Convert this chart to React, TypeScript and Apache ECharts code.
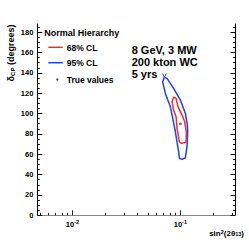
import React, { useEffect, useRef } from "react";
import * as echarts from "echarts";

const xMin = 0.00473;
const xMax = 0.324;
const yMin = 0;
const yMax = 188;
const xMajor = [0.01, 0.1];
const xMinor = [0.005, 0.006, 0.007, 0.008, 0.009, 0.02, 0.03, 0.04, 0.05, 0.06, 0.07, 0.08, 0.09, 0.2, 0.3];
const yMajor = [0, 20, 40, 60, 80, 100, 120, 140, 160, 180];
const yMinor = [5, 10, 15, 25, 30, 35, 45, 50, 55, 65, 70, 75, 85, 90, 95, 105, 110, 115, 125, 130, 135, 145, 150, 155, 165, 170, 175, 185];

const cl95: number[][] = [
  [0.0710, 135.5], [0.0752, 134.5], [0.0866, 124.7], [0.1, 113.2], [0.1113, 100.1],
  [0.1161, 88.7], [0.1169, 82.1], [0.1154, 69.0], [0.1113, 56.6], [0.1037, 55.0],
  [0.0979, 56.0], [0.0964, 62.4], [0.0899, 82.1], [0.0838, 98.5], [0.0808, 106.6],
  [0.0726, 119.8], [0.0685, 131.2], [0.0710, 135.5],
];
const cl95Tip: number[][] = [[0.0685, 139.4], [0.0710, 135.5], [0.0741, 139.4]];
const cl68: number[][] = [
  [0.0866, 116.4], [0.0912, 114.9], [0.0952, 106.6], [0.1037, 98.5], [0.1096, 91.9],
  [0.1137, 82.1], [0.1129, 71.7], [0.1022, 70.7], [0.0979, 72.3], [0.0932, 85.4],
  [0.0912, 96.8], [0.0866, 103.4], [0.0838, 111.5], [0.0866, 116.4],
];
const trueValue: number[][] = [[0.1, 90]];

const legendItems = ["68% CL", "95% CL", "True values"];
const legendTitle = "Normal Hierarchy";
const infoLines = ["8 GeV, 3 MW", "200 kton WC", "5 yrs"];

const RED = "#ff2a1a";
const BLUE = "#2040ff";
const FONT = "Liberation Sans";

export default function App() {
  const ref = useRef<HTMLDivElement>(null);
  useEffect(() => {
    if (!ref.current) return;
    const chart = echarts.init(ref.current, null, { renderer: "svg" });
    const grid = { left: 37.3, top: 24, right: 13.5, bottom: 26.7 };
    const baseX = { type: "log", logBase: 10, min: xMin, max: xMax, splitLine: { show: false } };
    const baseY = { type: "value", min: yMin, max: yMax, splitLine: { show: false } };
    chart.setOption({
      animation: false,
      grid,
      xAxis: [
        {
          ...baseX,
          position: "bottom",
          axisLine: { show: true, lineStyle: { color: "#555", width: 1 } },
          axisTick: { show: true, inside: true, length: 5, customValues: xMajor, lineStyle: { color: "#222" } },
          axisLabel: {
            customValues: xMajor,
            margin: 4,
            formatter: (v: number) => "10{s|" + Math.round(Math.log10(v)) + "}",
            fontFamily: FONT,
            fontWeight: "bold",
            fontSize: 7.5,
            color: "#000",
            rich: { s: { fontSize: 5.5, fontFamily: FONT, fontWeight: "bold", verticalAlign: "top", padding: [0, 0, 4, 0] } },
          },
        },
        {
          ...baseX,
          position: "bottom",
          axisLine: { show: false },
          axisTick: { show: true, inside: true, length: 2.5, customValues: xMinor, lineStyle: { color: "#222" } },
          axisLabel: { show: false },
        },
        {
          ...baseX,
          position: "top",
          axisLine: { show: true, lineStyle: { color: "#888", width: 1 } },
          axisTick: { show: false },
          axisLabel: { show: false },
        },
      ],
      yAxis: [
        {
          ...baseY,
          position: "left",
          axisLine: { show: true, lineStyle: { color: "#000", width: 1 } },
          axisTick: { show: true, inside: true, length: 5, customValues: yMajor, lineStyle: { color: "#000" } },
          axisLabel: {
            customValues: yMajor,
            margin: 4,
            fontFamily: FONT,
            fontWeight: "bold",
            fontSize: 7.5,
            color: "#000",
          },
        },
        {
          ...baseY,
          position: "left",
          axisLine: { show: false },
          axisTick: { show: true, inside: true, length: 2.5, customValues: yMinor, lineStyle: { color: "#000" } },
          axisLabel: { show: false },
        },
        {
          ...baseY,
          position: "right",
          axisLine: { show: true, lineStyle: { color: "#000", width: 1 } },
          axisTick: { show: true, inside: true, length: 5, customValues: yMajor, lineStyle: { color: "#000" } },
          axisLabel: { show: false },
        },
        {
          ...baseY,
          position: "right",
          axisLine: { show: false },
          axisTick: { show: true, inside: true, length: 2.5, customValues: yMinor, lineStyle: { color: "#000" } },
          axisLabel: { show: false },
        },
      ],
      series: [
        {
          name: "95% CL",
          type: "line",
          data: cl95,
          showSymbol: false,
          lineStyle: { color: BLUE, width: 1.5 },
          xAxisIndex: 0,
          yAxisIndex: 0,
        },
        {
          name: "95% CL tip",
          type: "line",
          data: cl95Tip,
          showSymbol: false,
          lineStyle: { color: BLUE, width: 1 },
          xAxisIndex: 0,
          yAxisIndex: 0,
        },
        {
          name: "68% CL",
          type: "line",
          data: cl68,
          showSymbol: false,
          lineStyle: { color: RED, width: 1.5 },
          xAxisIndex: 0,
          yAxisIndex: 0,
        },
        {
          name: "True values",
          type: "scatter",
          data: trueValue,
          symbol: "circle",
          symbolSize: 3,
          itemStyle: { color: "#555" },
          xAxisIndex: 0,
          yAxisIndex: 0,
        },
      ],
      graphic: [
        {
          type: "text",
          x: 44.3,
          y: 33.3,
          style: { text: legendTitle, font: `bold 9px "${FONT}"`, fill: "#000", align: "left", verticalAlign: "middle" },
        },
        { type: "line", shape: { x1: 48.3, y1: 47.3, x2: 62.7, y2: 47.3 }, style: { stroke: RED, lineWidth: 1.5 } },
        { type: "line", shape: { x1: 48.3, y1: 62.7, x2: 62.7, y2: 62.7 }, style: { stroke: BLUE, lineWidth: 1.5 } },
        { type: "circle", shape: { cx: 57.3, cy: 79.5, r: 1.2 }, style: { fill: "#555" } },
        ...legendItems.map((t, i) => ({
          type: "text",
          x: 66.7,
          y: [47.7, 63.3, 80][i],
          style: { text: t, font: `bold 8.5px "${FONT}"`, fill: "#000", align: "left", verticalAlign: "middle" },
        })),
        ...infoLines.map((t, i) => ({
          type: "text",
          x: 131.7,
          y: 50 + i * 12,
          style: { text: t, font: `bold 11px "${FONT}"`, fill: "#000", align: "left", verticalAlign: "middle" },
        })),
        {
          type: "text",
          x: 11,
          y: 53,
          rotation: Math.PI / 2,
          style: {
            text: "δ{sub|CP} (degrees)",
            font: `bold 9px "${FONT}"`,
            fill: "#000",
            align: "center",
            verticalAlign: "middle",
            rich: { sub: { fontSize: 6, fontFamily: FONT, fontWeight: "bold", verticalAlign: "bottom", fill: "#000" } },
          },
        },
        {
          type: "text",
          x: 244,
          y: 233,
          style: {
            text: "sin{sup|2}(2θ{sub|13})",
            font: `bold 8px "${FONT}"`,
            fill: "#000",
            align: "right",
            verticalAlign: "middle",
            rich: {
              sup: { fontSize: 5.5, fontFamily: FONT, fontWeight: "bold", verticalAlign: "top", fill: "#000" },
              sub: { fontSize: 5.5, fontFamily: FONT, fontWeight: "bold", verticalAlign: "bottom", fill: "#000" },
            },
          },
        },
      ],
    });
    return () => chart.dispose();
  }, []);
  return <div ref={ref} style={{ position: "absolute", left: 0, top: 0, width: 249, height: 242 }} />;
}
